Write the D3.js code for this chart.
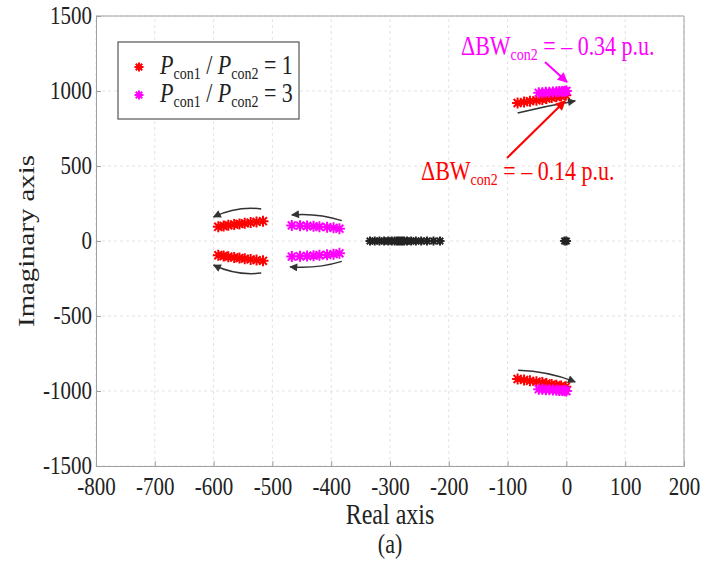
<!DOCTYPE html>
<html>
<head>
<meta charset="utf-8">
<script src="https://cdn.jsdelivr.net/npm/d3@7"></script>
<style>
body { margin: 0; background: #fff; }
text { font-family: "Liberation Serif", "Times New Roman", serif; }
</style>
</head>
<body>
<div id="viz"></div>
<script>
// pole positions (upper half; lower half are conjugates)
var xTicks = [-800, -700, -600, -500, -400, -300, -200, -100, 0, 100, 200];
var yTicks = [-1500, -1000, -500, 0, 500, 1000, 1500];

var redRe = [-592, -583, -575, -565, -556, -547, -537, -527, -516,
             -83, -72, -62, -51, -41, -34, -25, -17, -9, -1];
var redIm = [95, 100, 105, 110, 114, 118, 123, 127, 132,
             920, 926, 932, 938, 944, 950, 956, 961, 966, 972];

var magRe = [-467, -453, -441, -430, -420, -407, -396, -386,
             -47, -41, -35, -29, -23, -17, -12, -7, -3, 0];
var magIm = [104, 102, 100, 98, 95, 92, 88, 82,
             988, 989, 991, 992, 993, 995, 996, 997, 998, 1000];

var blackRe = [-334, -326, -318, -310, -303, -297, -292, -288, -285, -282,
               -279, -276, -271, -264, -256, -247, -237, -226, -215, -3, 0];

// black trend arrows: [x1, y1, x2, y2, bend(px)]
var trendArrows = [
  [-519, 214, -600, 160, -7],
  [-519, -214, -600, -160, 7],
  [-382, 136, -467, 174, -5],
  [-382, -136, -470, -172, 5],
  [-83, 854, 15, 934, 1],
  [-82, -862, 15, -939, 5]
];

var w = 718, h = 564;
var m = {left: 96, right: 34, top: 16, bottom: 98};
var vs = 1.2; // the reference lettering is taller than it is wide

var svg = d3.select("#viz").append("svg")
    .attr("width", w)
    .attr("height", h);

var x = d3.scaleLinear().domain([-800, 200]).range([m.left, w - m.right]);
var y = d3.scaleLinear().domain([-1500, 1500]).range([h - m.bottom, m.top]);

var defs = svg.append("defs");
[["headK", "#333", 11, 8], ["headR", "#ff0000", 13, 10], ["headM", "#ff00ff", 13, 10]].forEach(function(d) {
  defs.append("marker")
    .attr("id", d[0])
    .attr("viewBox", "0 0 10 10")
    .attr("refX", 9).attr("refY", 5)
    .attr("markerWidth", d[2]).attr("markerHeight", d[3])
    .attr("markerUnits", "userSpaceOnUse")
    .attr("orient", "auto")
    .append("path").attr("d", "M0,0L10,5L0,10z").attr("fill", d[1]);
});

// grid
svg.append("g").selectAll("line").data(xTicks).join("line")
    .attr("x1", d => x(d)).attr("x2", d => x(d))
    .attr("y1", y(-1500)).attr("y2", y(1500))
    .attr("stroke", "#e3e3e3").attr("stroke-dasharray", "3,3");
svg.append("g").selectAll("line").data(yTicks).join("line")
    .attr("y1", d => y(d)).attr("y2", d => y(d))
    .attr("x1", x(-800)).attr("x2", x(200))
    .attr("stroke", "#e3e3e3").attr("stroke-dasharray", "3,3");

// axes
var xAxis = svg.append("g")
    .attr("transform", "translate(0," + y(-1500) + ")")
    .call(d3.axisBottom(x).tickValues(xTicks).tickSize(-5).tickPadding(9).tickFormat(d => String(d)));
var yAxis = svg.append("g")
    .attr("transform", "translate(" + x(-800) + ",0)")
    .call(d3.axisLeft(y).tickValues(yTicks).tickSize(-5).tickPadding(4).tickFormat(d => String(d)));
[xAxis, yAxis].forEach(function(a) {
  a.select(".domain").attr("stroke", "#a0a0a0");
  a.selectAll(".tick line").attr("stroke", "#a0a0a0");
  a.selectAll(".tick text").attr("fill", "#222").style("font-size", "21px")
    .style("font-family", "'Liberation Serif', serif")
    .attr("transform", "scale(1," + vs + ")");
});
yAxis.selectAll(".tick text").attr("dy", "0.3em");
svg.append("path")
    .attr("d", "M" + x(-800) + "," + y(1500) + "H" + x(200) + "V" + y(-1500))
    .attr("fill", "none").attr("stroke", "#a0a0a0");

// asterisk marker
function star(s) {
  var a = s * 0.72;
  return "M" + (-s) + ",0H" + s + "M0," + (-s) + "V" + s +
    "M" + (-a) + "," + (-a) + "L" + a + "," + a +
    "M" + (-a) + "," + a + "L" + a + "," + (-a);
}

function drawPoles(re, im, color, size, sw) {
  var pts = [];
  re.forEach(function(r, i) {
    pts.push([r, im[i]]);
    if (im[i] !== 0) pts.push([r, -im[i]]);
  });
  svg.append("g").selectAll("path").data(pts).join("path")
    .attr("transform", d => "translate(" + x(d[0]) + "," + y(d[1]) + ")")
    .attr("d", star(size))
    .attr("fill", "none")
    .attr("stroke", color)
    .attr("stroke-width", sw);
}

drawPoles(blackRe, blackRe.map(() => 0), "#222", 4.5, 2);
drawPoles(redRe, redIm, "#ff0000", 5.5, 2);
drawPoles(magRe, magIm, "#ff00ff", 5.5, 2);

// trend arrows
trendArrows.forEach(function(a) {
  var x1 = x(a[0]), y1 = y(a[1]), x2 = x(a[2]), y2 = y(a[3]);
  var mx = (x1 + x2) / 2, my = (y1 + y2) / 2;
  var dx = x2 - x1, dy = y2 - y1, len = Math.sqrt(dx * dx + dy * dy);
  var nx = dy / len, ny = -dx / len;
  var p = d3.path();
  p.moveTo(x1, y1);
  p.quadraticCurveTo(mx + nx * a[4], my + ny * a[4], x2, y2);
  svg.append("path").attr("d", p.toString())
    .attr("fill", "none").attr("stroke", "#333").attr("stroke-width", 1.5)
    .attr("marker-end", "url(#headK)");
});

// text helper with the taller lettering
function label(tx, ty, size, color) {
  return svg.append("text")
    .attr("transform", "translate(" + tx + "," + ty + ") scale(1," + vs + ")")
    .attr("fill", color).style("font-size", size + "px");
}

// annotations
svg.append("line")
    .attr("x1", 545).attr("y1", 62).attr("x2", 567).attr("y2", 82)
    .attr("stroke", "#ff00ff").attr("stroke-width", 2)
    .attr("marker-end", "url(#headM)");
svg.append("line")
    .attr("x1", 507).attr("y1", 158).attr("x2", 565).attr("y2", 101)
    .attr("stroke", "#ff0000").attr("stroke-width", 2)
    .attr("marker-end", "url(#headR)");

function bwLabel(tx, ty, color, val) {
  var t = label(tx, ty, 22, color);
  t.append("tspan").text("\u0394BW");
  t.append("tspan").attr("dy", 4).style("font-size", "14px").text("con2");
  t.append("tspan").attr("dy", -4).text(" = \u2013 " + val + " p.u.");
}
bwLabel(461, 55, "#ff00ff", "0.34");
bwLabel(421, 180, "#ff0000", "0.14");

// legend
var lg = svg.append("g");
lg.append("rect").attr("x", 118).attr("y", 42).attr("width", 181).attr("height", 77)
    .attr("fill", "#fff").attr("stroke", "#555").attr("stroke-width", 1.2);
var legendItems = [["#ff0000", "1"], ["#ff00ff", "3"]];
legendItems.forEach(function(it, i) {
  var ly = 67 + i * 28;
  lg.append("path").attr("transform", "translate(139," + ly + ")")
    .attr("d", star(4.5)).attr("stroke", it[0]).attr("stroke-width", 2).attr("fill", "none");
  var t = label(160, ly + 7, 22, "#222");
  t.append("tspan").style("font-style", "italic").text("P");
  t.append("tspan").attr("dy", 4).style("font-size", "14px").text("con1");
  t.append("tspan").attr("dy", -4).text(" / ");
  t.append("tspan").style("font-style", "italic").text("P");
  t.append("tspan").attr("dy", 4).style("font-size", "14px").text("con2");
  t.append("tspan").attr("dy", -4).text(" = " + it[1]);
});

// axis titles
label((x(-800) + x(200)) / 2, 524, 24, "#222").attr("text-anchor", "middle").text("Real axis");
label((x(-800) + x(200)) / 2, 553, 22, "#222").attr("text-anchor", "middle").text("(a)");
svg.append("text")
    .attr("transform", "translate(34," + y(0) + ") rotate(-90) scale(" + vs + ",1)")
    .attr("text-anchor", "middle").attr("fill", "#222").style("font-size", "24px")
    .text("Imaginary axis");
</script>
</body>
</html>
